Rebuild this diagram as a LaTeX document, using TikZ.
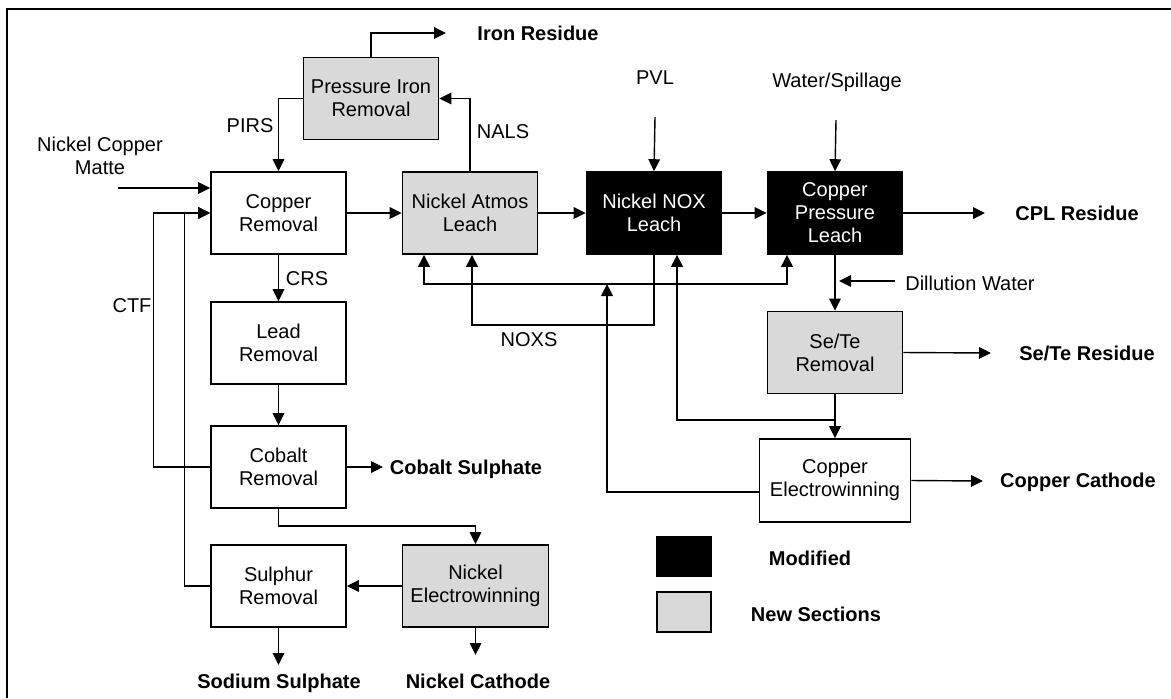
\documentclass[tikz,border=0pt]{standalone}
\usepackage{fontspec}
\setmainfont{Liberation Sans}
\usetikzlibrary{arrows.meta}
\tikzset{
  unit/.style={draw=black, line width=0.8pt, fill=white, minimum width=67.5pt,
               minimum height=41pt, align=center, inner sep=1pt,
               font=\fontsize{10}{11.5}\selectfont},
  newunit/.style={unit, fill=black!15},
  modunit/.style={unit, fill=black, text=white},
  keybox/.style={draw=black, line width=0.8pt, minimum width=27pt, minimum height=20pt},
  flow/.style={line width=0.7pt, -{Triangle[length=6pt,width=5.8pt]}},
  recyc/.style={line width=1pt, -{Triangle[length=6pt,width=5.8pt]}},
  prod/.style={font=\fontsize{10}{11.5}\selectfont\bfseries},
  strm/.style={font=\fontsize{10}{11.5}\selectfont, align=center},
}

\begin{document}
\begin{tikzpicture}[x=0.5pt,y=-0.5pt]
  \useasboundingbox (0,0) rectangle (1171,698);
  % frame (cut at right and bottom)
  \draw[line width=1pt] (7,698) |- (1171,9);

  % process units
  \node[newunit] (pir)  at (371,98.5) {Pressure Iron\\Removal};
  \node[unit]    (cur)  at (278.5,213) {Copper\\Removal};
  \node[newunit] (nal)  at (470,213)   {Nickel Atmos\\Leach};
  \node[modunit] (nox)  at (654,213)   {Nickel NOX\\Leach};
  \node[modunit] (cpl)  at (835,213)   {Copper\\Pressure\\Leach};
  \node[unit]    (lead) at (278.5,343) {Lead\\Removal};
  \node[unit]    (cob)  at (278.5,467) {Cobalt\\Removal};
  \node[unit]    (sul)  at (278.5,586) {Sulphur\\Removal};
  \node[newunit, minimum width=73pt] (niew) at (475.5,586) {Nickel\\Electrowinning};
  \node[newunit] (sete) at (835,352.5) {Se/Te\\Removal};
  \node[unit, minimum width=75.5pt, minimum height=41.5pt] (cew) at (835,480.5) {Copper\\Electrowinning};

  % legend
  \node[keybox, fill=black]    (modkey) at (684,556.5) {};
  \node[keybox, fill=black!15] (newkey) at (684,612) {};
  \node[prod] (modlbl) at (810,558) {Modified};
  \node[prod] (newlbl) at (816,614) {New Sections};

  % feeds and products
  \node[strm] (matte) at (100,156) {Nickel Copper\\Matte};
  \node[strm] (pvl)   at (655,78)  {PVL};
  \node[strm] (water) at (837,82)  {Water/Spillage};
  \node[strm] (dilw)  at (970,283) {Dillution Water};
  \node[prod] (fe)    at (538,33)  {Iron Residue};
  \node[prod] (cplr)  at (1077,213) {CPL Residue};
  \node[prod] (seter) at (1087,353) {Se/Te Residue};
  \node[prod] (cucat) at (1078,482) {Copper Cathode};
  \node[prod] (coso)  at (466,469)  {Cobalt Sulphate};
  \node[prod] (naso)  at (279,683)  {Sodium Sulphate};
  \node[prod] (nicat) at (478,681)  {Nickel Cathode};

  % stream labels
  \node[strm] (pirs) at (250,126) {PIRS};
  \node[strm] (nals) at (503,132) {NALS};
  \node[strm] (crs)  at (307,279) {CRS};
  \node[strm] (ctf)  at (132,306) {CTF};
  \node[strm] (noxs) at (529,340) {NOXS};

  % free ends
  \coordinate (feout)  at (446,33);
  \coordinate (matin)  at (118,188);
  \coordinate (pvlin)  at (655,117);
  \coordinate (watin)  at (836,120);
  \coordinate (dilin)  at (895,281);
  \coordinate (cplout) at (985,213);
  \coordinate (seout)  at (991,353);
  \coordinate (cuout)  at (983,481);
  \coordinate (coout)  at (383,467);
  \coordinate (naout)  at (278.5,665);
  \coordinate (niout)  at (475.5,655);
  \coordinate (rcl)    at (424,284);
  \coordinate (rcr)    at (787,284);
  \coordinate (noxsc)  at (472,325);
  \coordinate (sebr)   at (835,420);
  \coordinate (noxr)   at (677,420);
  \coordinate (cewr)   at (607,492);

  % main line
  \draw[flow] (matin) -- (matin -| cur.west);
  \draw[flow] (cur.east) -- (nal.west);
  \draw[flow] (nal.east) -- (nox.west);
  \draw[flow] (nox.east) -- (cpl.west);
  \draw[flow] (cpl.east) -- (cplout);
  \draw[flow] (pvlin) -- (nox.north);
  \draw[flow] (watin) -- (cpl.north);
  \draw[flow] (nal.north) |- (pir.east);
  \draw[flow] (pir.west) -| (cur.north);
  \draw[flow] (pir.north) |- (feout);

  % purification train
  \draw[flow] (cur.south) -- (lead.north);
  \draw[flow] (lead.south) -- (cob.north);
  \draw[flow] (cob.east) -- (coout);
  \draw[flow] (cob.south) -- ++(0,17) -| (niew.north);
  \draw[flow] (niew.west) -- (sul.east);
  \draw[flow] (sul.south) -- (naout);
  \draw[flow] (niew.south) -- (niout);
  \draw[flow] (cob.west) -- ++(-57,0) |- (cur.west);
  \draw[flow] (sul.west) -- ++(-26,0) |- (cur.west);

  % copper side
  \draw[flow] (cpl.south) -- (sete.north);
  \draw[flow, shorten >=2pt] (dilin) -- (dilin -| cpl.south);
  \draw[flow] (sete.east) -- (seout);
  \draw[flow] (sete.south) -- (cew.north);
  \draw[flow] (cew.east) -- (cuout);

  % recycles
  \draw[recyc, {Triangle[length=6pt,width=5.8pt]}-{Triangle[length=6pt,width=5.8pt]}]
    (rcl |- nal.south) -- (rcl) -- (rcr) -- (rcr |- cpl.south);
  \draw[recyc] (nox.south) |- (noxsc) -- (noxsc |- nal.south);
  \draw[recyc] (sebr) -- (noxr) -- (noxr |- nox.south);
  \draw[recyc] (cew.west |- cewr) -- (cewr) -- (cewr |- rcl);
\end{tikzpicture}
\end{document}
